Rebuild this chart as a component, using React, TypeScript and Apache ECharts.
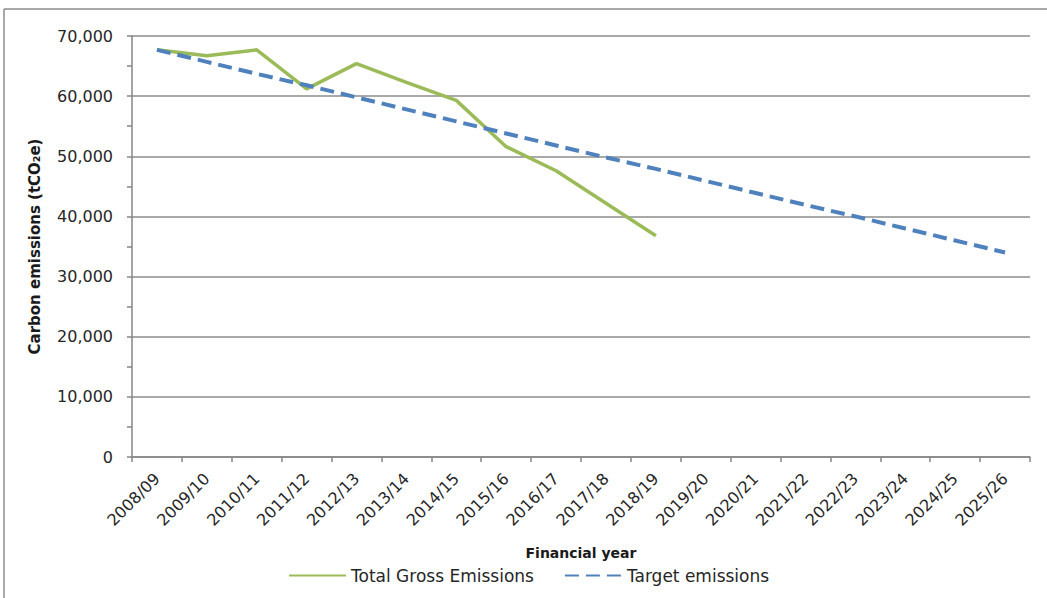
import React, { useEffect, useRef } from "react";
import * as echarts from "echarts";

const categories = [
  "2008/09", "2009/10", "2010/11", "2011/12", "2012/13", "2013/14",
  "2014/15", "2015/16", "2016/17", "2017/18", "2018/19", "2019/20",
  "2020/21", "2021/22", "2022/23", "2023/24", "2024/25", "2025/26",
];

const totalGrossEmissions: (number | null)[] = [
  67700, 66700, 67700, 61200, 65400, 62300, 59300, 51600, 47600, 42200, 36800,
  null, null, null, null, null, null, null,
];

const targetEmissions = [
  67700, 65700, 63700, 61800, 59800, 57800, 55800, 53800, 51800, 49800,
  47900, 45900, 43900, 41900, 40000, 38000, 36000, 34000,
];

const yTicks = { min: 0, max: 70000, interval: 10000 };

const FONT = "DejaVu Sans";

export default function App() {
  const ref = useRef<HTMLDivElement>(null);

  useEffect(() => {
    if (!ref.current) return;
    const chart = echarts.init(ref.current, null, { renderer: "svg" });
    chart.setOption({
      animation: false,
      backgroundColor: "#ffffff",
      textStyle: { fontFamily: FONT },
      graphic: [
        {
          type: "line",
          shape: { x1: 4, y1: 9, x2: 1047, y2: 9 },
          style: { stroke: "#8c8c8c", lineWidth: 1.5 },
        },
        {
          type: "line",
          shape: { x1: 4, y1: 9, x2: 4, y2: 598 },
          style: { stroke: "#8c8c8c", lineWidth: 1.5 },
        },
      ],
      grid: { left: 132, right: 17, top: 36, bottom: 141, containLabel: false },
      legend: {
        left: 283,
        top: 562,
        itemWidth: 57,
        itemHeight: 14,
        itemGap: 30,
        itemStyle: { opacity: 0 },
        textStyle: { fontFamily: FONT, fontSize: 17, color: "#262626" },
        data: ["Total Gross Emissions", "Target emissions"],
      },
      xAxis: {
        type: "category",
        data: categories,
        boundaryGap: true,
        name: "Financial year",
        nameLocation: "middle",
        nameGap: 89,
        nameTextStyle: { fontFamily: FONT, fontSize: 14, fontWeight: "bold", color: "#1a1a1a" },
        axisLine: { show: true, lineStyle: { color: "#868686", width: 1.5 } },
        axisTick: { show: true, length: 5, alignWithLabel: false, lineStyle: { color: "#868686", width: 1.5 } },
        axisLabel: {
          rotate: 45,
          interval: 0,
          margin: 19,
          fontFamily: FONT,
          fontSize: 16,
          color: "#262626",
        },
        splitLine: { show: false },
      },
      yAxis: {
        type: "value",
        min: yTicks.min,
        max: yTicks.max,
        interval: yTicks.interval,
        name: "Carbon emissions (tCO₂e)",
        nameLocation: "middle",
        nameGap: 90,
        nameTextStyle: { fontFamily: FONT, fontSize: 15, fontWeight: "bold", color: "#1a1a1a" },
        axisLine: { show: true, lineStyle: { color: "#868686", width: 1.5 } },
        axisTick: { show: true, length: 5, lineStyle: { color: "#868686", width: 1.5 } },
        minorTick: { show: true, splitNumber: 2, length: 5, lineStyle: { color: "#868686", width: 1.5 } },
        axisLabel: {
          margin: 19,
          fontFamily: FONT,
          fontSize: 16,
          color: "#262626",
          formatter: (v: number) => v.toLocaleString("en-US"),
        },
        splitLine: { show: true, lineStyle: { color: "#8c8c8c", width: 1.5 } },
      },
      series: [
        {
          name: "Total Gross Emissions",
          type: "line",
          data: totalGrossEmissions,
          symbol: "none",
          showSymbol: false,
          connectNulls: false,
          itemStyle: { color: "#9bbb59" },
          lineStyle: { color: "#9bbb59", width: 3.5 },
          z: 3,
        },
        {
          name: "Target emissions",
          type: "line",
          data: targetEmissions,
          symbol: "none",
          showSymbol: false,
          itemStyle: { color: "#4f81bd" },
          lineStyle: { color: "#4f81bd", width: 4, type: [14, 7] },
          z: 4,
        },
      ],
    });
    return () => chart.dispose();
  }, []);

  return (
    <div
      ref={ref}
      style={{ position: "fixed", left: 0, top: 0, width: 1047, height: 598, background: "#fff" }}
    />
  );
}
